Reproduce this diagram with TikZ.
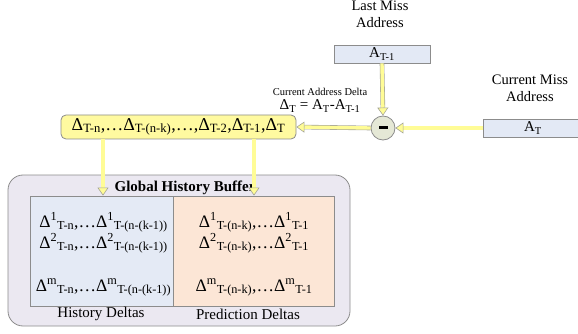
\documentclass[tikz,border=0pt]{standalone}
\usepackage{fontspec}
\setmainfont{Liberation Serif}
\usetikzlibrary{arrows.meta}
\definecolor{edgegray}{RGB}{140,140,140}
\definecolor{boxblue}{RGB}{227,233,245}
\definecolor{boxyellow}{RGB}{255,250,160}
\definecolor{arrowyellow}{RGB}{255,252,150}
\definecolor{arrowgray}{RGB}{165,165,150}
\definecolor{circfill}{RGB}{229,232,214}
\definecolor{outerfill}{RGB}{235,232,241}
\definecolor{histfill}{RGB}{228,234,245}
\definecolor{predfill}{RGB}{252,230,214}
\newcommand\Up[1]{\textsuperscript{#1}}
\newcommand\Dn[1]{\textsubscript{#1}}
\begin{document}
\begin{tikzpicture}[x=1pt,y=-1pt,
  every node/.append style={font=\rmfamily},
  abox/.style={draw=edgegray, line width=0.8pt, fill=boxblue, inner sep=0pt, font=\rmfamily\fontsize{15}{17}\selectfont},
  lbl/.style={align=center, inner sep=0pt, font=\rmfamily\fontsize{14.5}{17}\selectfont},
  fat/.style={draw=arrowgray, line width=0.6pt, double=arrowyellow, double distance=3.4pt,
    -{Triangle[length=8pt, width=11pt, fill=arrowyellow, color=arrowgray, line width=0.6pt]}},
  cell/.style={anchor=base, inner sep=0pt, font=\rmfamily\fontsize{17.5}{20}\selectfont},
  foot/.style={inner sep=0pt, font=\rmfamily\fontsize{15}{17}\selectfont}
]
\useasboundingbox (0,0) rectangle (578,334);

% outer buffer
\node[draw=edgegray, line width=0.8pt, fill=outerfill, rounded corners=15pt,
  minimum width=342pt, minimum height=151pt, inner sep=0pt] (ghb) at (179,250.5) {};
\node[draw=edgegray, line width=0.8pt, fill=histfill, minimum width=143pt, minimum height=110pt, inner sep=0pt] (hist) at (101.5,251) {};
\node[draw=edgegray, line width=0.8pt, fill=predfill, minimum width=161pt, minimum height=110pt, inner sep=0pt] (pred) at (253.5,251) {};

\node[inner sep=0pt, font=\rmfamily\fontsize{15}{17}\selectfont\bfseries] (ghbt) at (185,188) {Global History Buffer};

\node[cell] (h1) at (103.5,227) {Δ\Up{1}\Dn{T-n},…Δ\Up{1}\Dn{T-(n-(k-1))}};
\node[cell] (h2) at (103.5,248) {Δ\Up{2}\Dn{T-n},…Δ\Up{2}\Dn{T-(n-(k-1))}};
\node[cell] (h3) at (103.5,291) {Δ\Up{m}\Dn{T-n},…Δ\Up{m}\Dn{T-(n-(k-1))}};
\node[cell] (p1) at (254,227) {Δ\Up{1}\Dn{T-(n-k)},…Δ\Up{1}\Dn{T-1}};
\node[cell] (p2) at (254,248) {Δ\Up{2}\Dn{T-(n-k)},…Δ\Up{2}\Dn{T-1}};
\node[cell] (p3) at (254,291) {Δ\Up{m}\Dn{T-(n-k)},…Δ\Up{m}\Dn{T-1}};

\node[foot] (hl) at (101,314) {History Deltas};
\node[foot] (pl) at (248,314) {Prediction Deltas};

% delta sequence box
\node[draw=edgegray, line width=0.8pt, fill=boxyellow, rounded corners=5pt,
  minimum width=235pt, minimum height=24pt, inner sep=0pt, font=\rmfamily\fontsize{18}{20}\selectfont]
  (seq) at (178.5,127) {Δ\Dn{T-n},…Δ\Dn{T-(n-k)},…,Δ\Dn{T-2},Δ\Dn{T-1},Δ\Dn{T}};

% addresses
\node[lbl] (lastl) at (380,14) {Last Miss\\Address};
\node[abox, minimum width=96pt, minimum height=18pt] (alast) at (382,54) {A\Dn{T-1}};
\node[lbl] (curl) at (530,88) {Current Miss\\Address};
\node[abox, minimum width=100pt, minimum height=18pt] (acur) at (533,128) {A\Dn{T}};

% subtractor
\node[circle, draw=edgegray, line width=0.8pt, fill=circfill, minimum size=24pt, inner sep=0pt] (sub) at (383,128) {};
\node[fill=black, minimum width=9pt, minimum height=3pt, inner sep=0pt] (minus) at (sub.center) {};

\node[inner sep=0pt, font=\rmfamily\fontsize{10.5}{12}\selectfont] (cadl) at (320,92) {Current Address Delta};
\node[inner sep=0pt, font=\rmfamily\fontsize{15}{17}\selectfont] (cadf) at (320,106) {Δ\Dn{T} = A\Dn{T}-A\Dn{T-1}};

% connectors
\coordinate (xa) at (103,0);
\coordinate (xb) at (254,0);
\draw[fat] (alast.south) -- (sub.north);
\draw[fat] (acur.west) -- (sub.east);
\draw[fat] (sub.west) -- (seq.east);
\draw[fat] (seq.south -| xa) -- (hist.north -| xa);
\draw[fat] (seq.south -| xb) -- (pred.north -| xb);
\end{tikzpicture}
\end{document}
